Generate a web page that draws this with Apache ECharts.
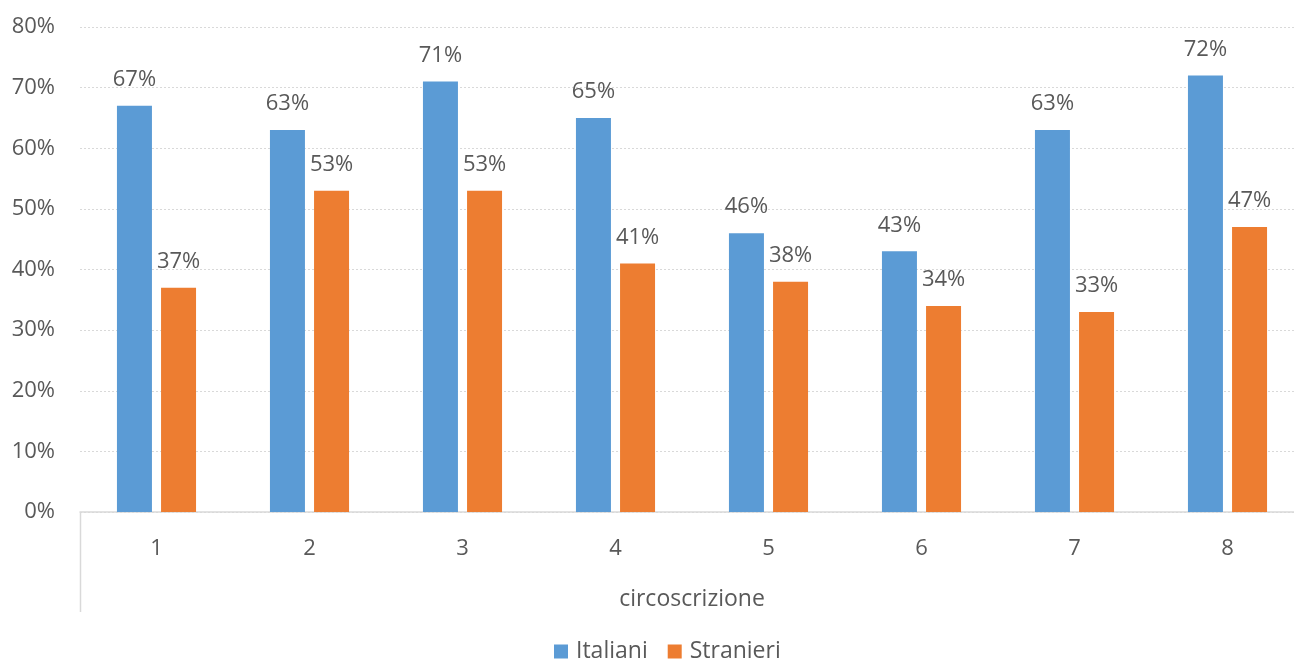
<!DOCTYPE html>
<html>
<head>
<meta charset="utf-8">
<script src="https://cdn.jsdelivr.net/npm/echarts@6/dist/echarts.min.js"></script>
<style>
  html, body { margin: 0; padding: 0; background: #ffffff; overflow: hidden; }
  /* the plot runs slightly past the right edge of the window */
  #chart { width: 1310px; height: 662px; }
</style>
</head>
<body>
<div id="chart"></div>
<script>
// Quota per circoscrizione (valori in percentuale)
const categories = ['1', '2', '3', '4', '5', '6', '7', '8'];
const italiani = [67, 63, 71, 65, 46, 43, 63, 72];
const stranieri = [37, 53, 53, 41, 38, 34, 33, 47];
const yTicks = [0, 10, 20, 30, 40, 50, 60, 70, 80];

const FONT = '"Open Sans", Lato, sans-serif';
const TEXT = '#595959';

const chart = echarts.init(document.getElementById('chart'));

const labelStyle = {
  show: true,
  position: 'top',
  distance: 15,
  formatter: p => p.value + '%',
  color: TEXT,
  fontFamily: FONT,
  fontSize: 22
};

chart.setOption({
  animation: false,
  textStyle: { fontFamily: FONT },
  grid: { left: 80, top: 27, width: 1224, bottom: 150, containLabel: false },
  legend: {
    left: 549,
    top: 635,
    itemWidth: 14,
    itemHeight: 14,
    itemGap: 20,
    icon: 'rect',
    textStyle: { color: TEXT, fontSize: 23, fontFamily: FONT, padding: [0, 0, 0, 3] },
    data: ['Italiani', 'Stranieri']
  },
  xAxis: {
    type: 'category',
    data: categories,
    name: 'circoscrizione',
    nameLocation: 'middle',
    nameGap: 76,
    nameTextStyle: { color: TEXT, fontSize: 23, fontFamily: FONT },
    axisLine: { lineStyle: { color: '#d9d9d9', width: 1.5 } },
    axisTick: { show: false },
    axisLabel: { color: TEXT, fontSize: 22, fontFamily: FONT, margin: 26 }
  },
  yAxis: {
    type: 'value',
    min: yTicks[0],
    max: yTicks[yTicks.length - 1],
    interval: 10,
    axisLine: { show: false },
    axisTick: { show: false },
    axisLabel: { color: TEXT, fontSize: 22, fontFamily: FONT, margin: 25, formatter: v => v + '%' },
    splitLine: { lineStyle: { color: '#d9d9d9', type: [2, 2], width: 1 } }
  },
  graphic: [{
    type: 'line',
    shape: { x1: 80.5, y1: 512, x2: 80.5, y2: 612 },
    style: { stroke: '#d9d9d9', lineWidth: 1.5 },
    silent: true
  }],
  series: [
    {
      name: 'Italiani',
      type: 'bar',
      data: italiani,
      barWidth: 35,
      barGap: '26%',
      itemStyle: { color: '#5b9bd5' },
      label: labelStyle
    },
    {
      name: 'Stranieri',
      type: 'bar',
      data: stranieri,
      barWidth: 35,
      itemStyle: { color: '#ed7d31' },
      label: labelStyle
    }
  ]
});
</script>
</body>
</html>
